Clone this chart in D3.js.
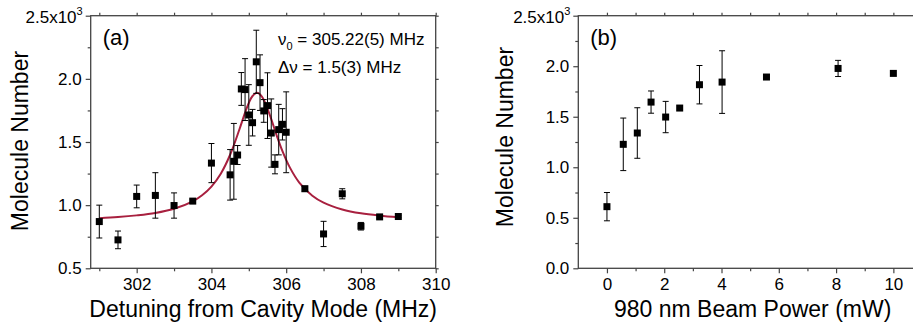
<!DOCTYPE html>
<html><head><meta charset="utf-8">
<script src="https://cdn.jsdelivr.net/npm/d3@7"></script>
<style>
html,body{margin:0;padding:0;background:#fff;}
svg{display:block;font-family:"Liberation Sans",Arial,Helvetica,sans-serif;}
</style></head>
<body><svg id="c" width="913" height="327"></svg>
<script>
// ---- Panel (a) data: detuning (MHz) vs molecule number (x10^3)
const aX   = [301, 301.5, 302, 302.5, 303, 303.5, 304, 304.5, 304.6, 304.7, 304.8, 304.9, 305.0, 305.1, 305.2, 305.3, 305.4, 305.5, 305.6, 305.7, 305.8, 305.9, 306.0, 306.5, 307.0, 307.5, 308.0, 308.5, 309.0];
const aY   = [0.870, 0.725, 1.069, 1.077, 0.997, 1.032, 1.333, 1.240, 1.347, 1.397, 1.920, 1.915, 1.714, 1.653, 2.135, 1.970, 1.746, 1.788, 1.571, 1.323, 1.598, 1.640, 1.577, 1.130, 0.772, 1.090, 0.833, 0.907, 0.910];
const aErr = [0.13, 0.07, 0.09, 0.18, 0.10, 0.015, 0.155, 0.20, 0.30, 0.075, 0.13, 0.245, 0.24, 0.105, 0.25, 0.22, 0.09, 0.26, 0.27, 0.075, 0.20, 0.124, 0.32, 0.02, 0.10, 0.04, 0.03, 0.01, 0.01];
// fitted curve
const fitX = [301, 301.5, 302, 302.5, 303, 303.5, 303.75, 304, 304.25, 304.5, 304.75, 304.9, 305.0, 305.1, 305.22, 305.35, 305.45, 305.6, 305.75, 305.9, 306.1, 306.35, 306.7, 307.0, 307.5, 308, 308.5, 309];
const fitY = [0.897, 0.906, 0.919, 0.938, 0.971, 1.030, 1.078, 1.147, 1.249, 1.399, 1.601, 1.732, 1.809, 1.864, 1.890, 1.860, 1.802, 1.681, 1.549, 1.428, 1.297, 1.179, 1.075, 1.020, 0.966, 0.935, 0.917, 0.905];
const aXTicks = [302, 304, 306, 308, 310];
const aYTicks = [0.5, 1.0, 1.5, 2.0];

// ---- Panel (b) data: 980 nm beam power (mW) vs molecule number (x10^3)
const bX   = [0, 0.57, 1.06, 1.54, 2.05, 2.54, 3.23, 4.02, 5.57, 8.07, 10.0];
const bY   = [0.61, 1.227, 1.339, 1.645, 1.497, 1.586, 1.817, 1.843, 1.893, 1.978, 1.929];
const bErr = [0.14, 0.26, 0.25, 0.11, 0.155, 0, 0.19, 0.31, 0, 0.08, 0];
const bXTicks = [0, 2, 4, 6, 8, 10];
const bYTicks = [0.0, 0.5, 1.0, 1.5, 2.0];

const svg = d3.select("#c");
const AX = "#444";
const FIT = "#A8203F";

function panel(o) {
  const x = d3.scaleLinear().domain(o.xDom).range([o.left, o.right]);
  const y = d3.scaleLinear().domain(o.yDom).range([o.bottom, o.top]);
  const g = svg.append("g");
  const clipId = "clip" + o.id;
  svg.append("clipPath").attr("id", clipId).append("rect")
    .attr("x", o.left).attr("y", o.top).attr("width", o.right - o.left).attr("height", o.bottom - o.top);

  const style = sel => { sel.select(".domain").remove(); sel.selectAll("line").attr("stroke", AX).attr("stroke-width", 1.2); sel.selectAll("text").attr("fill", "#000").style("font-size", "17px"); };

  // bottom
  g.append("g").attr("transform", `translate(0,${o.bottom})`)
    .call(d3.axisBottom(x).tickValues(o.xMinor).tickSize(3).tickFormat("")).call(style);
  g.append("g").attr("transform", `translate(0,${o.bottom})`)
    .call(d3.axisBottom(x).tickValues(o.xTicks).tickSize(5).tickPadding(5).tickFormat(d3.format("d"))).call(style);
  // top
  g.append("g").attr("transform", `translate(0,${o.top})`)
    .call(d3.axisTop(x).tickValues(o.xTop).tickSize(3).tickFormat("")).call(style);
  // left
  g.append("g").attr("transform", `translate(${o.left},0)`)
    .call(d3.axisLeft(y).tickValues(o.yMinor).tickSize(3).tickFormat("")).call(style);
  g.append("g").attr("transform", `translate(${o.left},0)`)
    .call(d3.axisLeft(y).tickValues(o.yTicks.concat([o.yDom[1]])).tickSize(5).tickPadding(4).tickFormat(d3.format(".1f"))).call(style)
    .selectAll(".tick").filter(d => d === o.yDom[1]).select("text").remove();
  // top label 2.5x10^3
  const tl = g.append("text").attr("x", o.left - 8).attr("y", y(o.yDom[1]) + 7.5)
    .attr("text-anchor", "end").style("font-size", "17px");
  tl.append("tspan").text(o.yDom[1].toFixed(1) + "x10");
  tl.append("tspan").attr("dy", -8).style("font-size", "11px").text("3");
  // right
  if (o.rightAxis) {
    g.append("g").attr("transform", `translate(${o.right},0)`)
      .call(d3.axisRight(y).tickValues(o.yTicks.concat(o.yMinor, [o.yDom[1]])).tickSize(3).tickFormat("")).call(style);
  }
  // frame
  g.append("rect").attr("x", o.left).attr("y", o.top).attr("width", o.right - o.left).attr("height", o.bottom - o.top)
    .attr("fill", "none").attr("stroke", AX).attr("stroke-width", 1.3);

  const d = g.append("g").attr("clip-path", `url(#${clipId})`);
  if (o.fitX) {
    d.append("path").datum(o.fitX.map((v, i) => [v, o.fitY[i]]))
      .attr("fill", "none").attr("stroke", FIT).attr("stroke-width", 2)
      .attr("d", d3.line().x(p => x(p[0])).y(p => y(p[1])).curve(d3.curveCatmullRom));
  }
  const pts = o.X.map((v, i) => ({x: v, y: o.Y[i], e: o.E[i]}));
  const eb = d.append("g").attr("stroke", "#000").attr("stroke-width", 1);
  pts.filter(p => p.e > 0).forEach(p => {
    const cx = x(p.x), y1 = y(p.y + p.e), y2 = y(p.y - p.e);
    eb.append("line").attr("x1", cx).attr("x2", cx).attr("y1", y1).attr("y2", y2);
    eb.append("line").attr("x1", cx - 3).attr("x2", cx + 3).attr("y1", y1).attr("y2", y1);
    eb.append("line").attr("x1", cx - 3).attr("x2", cx + 3).attr("y1", y2).attr("y2", y2);
  });
  d.append("g").selectAll("rect").data(pts).join("rect")
    .attr("x", p => x(p.x) - 3.5).attr("y", p => y(p.y) - 3.5)
    .attr("width", 7).attr("height", 7).attr("fill", "#000");

  // titles
  svg.append("text").attr("x", (o.left + Math.min(o.right, 913)) / 2 + o.xtShift).attr("y", 317)
    .attr("text-anchor", "middle").style("font-size", "23px").text(o.xTitle);
  svg.append("text").attr("transform", `translate(${o.ytX},${o.ytY}) rotate(-90)`)
    .attr("text-anchor", "middle").style("font-size", "23px").text("Molecule Number");
  svg.append("text").attr("x", o.left + 12).attr("y", 45).style("font-size", "22px").text(o.tag);
  return {x, y, g};
}

const pa = panel({
  id: "a", left: 90.7, right: 435.7, top: 15.7, bottom: 268.3,
  xDom: [300.77, 310], yDom: [0.5, 2.5],
  xTicks: aXTicks, xMinor: [301, 303, 305, 307, 309], xTop: d3.range(301, 311),
  yTicks: aYTicks, yMinor: [0.75, 1.25, 1.75, 2.25], rightAxis: true,
  X: aX, Y: aY, E: aErr, fitX: fitX, fitY: fitY,
  xTitle: "Detuning from Cavity Mode (MHz)", xtShift: 0, ytX: 28, ytY: 141, tag: "(a)"
});

const pb = panel({
  id: "b", left: 578.3, right: 922, top: 15.7, bottom: 268.3,
  xDom: [-1, 11], yDom: [0, 2.5],
  xTicks: bXTicks, xMinor: [1, 3, 5, 7, 9], xTop: d3.range(0, 11),
  yTicks: bYTicks, yMinor: [0.25, 0.75, 1.25, 1.75, 2.25], rightAxis: false,
  X: bX, Y: bY, E: bErr,
  xTitle: "980 nm Beam Power (mW)", xtShift: 7, ytX: 513, ytY: 137, tag: "(b)"
});

// annotation in panel (a)
const ann1 = svg.append("text").attr("x", 278).attr("y", 45).style("font-size", "17px");
ann1.append("tspan").text("\u03bd");
ann1.append("tspan").attr("dy", 5).style("font-size", "11px").text("0");
ann1.append("tspan").attr("dy", -5).text(" = 305.22(5) MHz");
svg.append("text").attr("x", 278).attr("y", 72.5).style("font-size", "17px").text("\u0394\u03bd = 1.5(3) MHz");
</script></body></html>
